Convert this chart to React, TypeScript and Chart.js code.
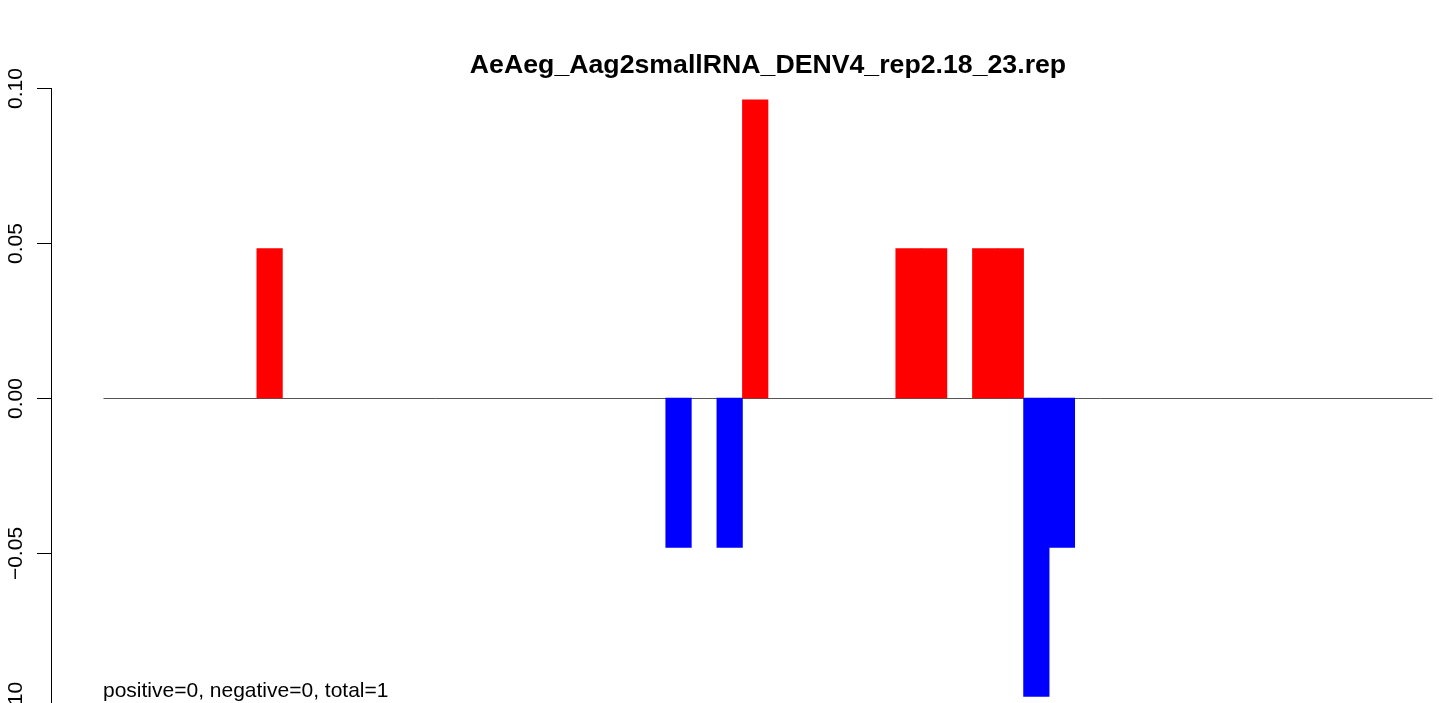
import React, { useEffect, useRef } from "react";
import { Chart, registerables } from "chart.js";

Chart.register(...registerables);

const categories = [
  "1", "2", "3", "4", "5", "6", "7", "8", "9", "10",
  "11", "12", "13", "14", "15", "16", "17", "18", "19", "20",
  "21", "22", "23", "24", "25", "26", "27", "28", "29", "30",
  "31", "32", "33", "34", "35", "36", "37", "38", "39", "40",
  "41", "42", "43", "44", "45", "46", "47", "48", "49", "50",
  "51", "52",
];
const redPositions = ["7", "26", "32", "33", "35", "36"];
const redValues = [0.0482, 0.0962, 0.0482, 0.0482, 0.0482, 0.0482];
const bluePositions = ["23", "25", "37", "38"];
const blueValues = [-0.0482, -0.0482, -0.0963, -0.0482];
const yTicks = [0.1, 0.05, 0, -0.05, -0.1];
const yTickLabels = ["0.10", "0.05", "0.00", "\u22120.05", "\u22120.10"];
const titleText = "AeAeg_Aag2smallRNA_DENV4_rep2.18_23.rep";
const footText = "positive=0, negative=0, total=1";

const FONT = "'Liberation Sans', Arial, Helvetica, sans-serif";

const rStyle = {
  id: "rStyle",
  beforeDatasetsDraw(chart: any) {
    const { ctx, chartArea, scales } = chart;
    const y0 = scales.y.getPixelForValue(0);
    ctx.save();
    ctx.strokeStyle = "#555555";
    ctx.lineWidth = 1;
    ctx.beginPath();
    ctx.moveTo(chartArea.left, Math.round(y0) + 0.5);
    ctx.lineTo(chartArea.right, Math.round(y0) + 0.5);
    ctx.stroke();
    ctx.restore();
  },
  afterDraw(chart: any) {
    const { ctx, scales } = chart;
    const ys = scales.y;
    const axisX = 51.5;
    ctx.save();
    ctx.strokeStyle = "#000";
    ctx.lineWidth = 1;
    ctx.beginPath();
    ctx.moveTo(axisX, ys.getPixelForValue(yTicks[0]));
    ctx.lineTo(axisX, ys.getPixelForValue(yTicks[yTicks.length - 1]));
    ctx.stroke();
    ctx.fillStyle = "#000";
    ctx.font = `21px ${FONT}`;
    ctx.textAlign = "center";
    ctx.textBaseline = "alphabetic";
    yTicks.forEach((v, i) => {
      const py = Math.round(ys.getPixelForValue(v)) + 0.5;
      ctx.beginPath();
      ctx.moveTo(37, py);
      ctx.lineTo(axisX, py);
      ctx.stroke();
      ctx.save();
      ctx.translate(22, py);
      ctx.rotate(-Math.PI / 2);
      ctx.fillText(yTickLabels[i], 0, 0);
      ctx.restore();
    });
    ctx.font = `bold 26.7px ${FONT}`;
    ctx.textAlign = "center";
    ctx.fillText(titleText, 768, 73);
    ctx.font = `21px ${FONT}`;
    ctx.textAlign = "left";
    ctx.fillText(footText, 103, 697);
    ctx.restore();
  },
};

export default function App() {
  const ref = useRef<HTMLCanvasElement | null>(null);
  useEffect(() => {
    if (!ref.current) return;
    const chart = new Chart(ref.current, {
      type: "bar",
      data: {
        labels: categories,
        datasets: [
          {
            label: "positive",
            data: redPositions.map((p, i) => ({ x: p, y: redValues[i] })),
            backgroundColor: "#ff0000",
            borderWidth: 0,
            grouped: false,
            barPercentage: 1,
            categoryPercentage: 1,
          } as any,
          {
            label: "negative",
            data: bluePositions.map((p, i) => ({ x: p, y: blueValues[i] })),
            backgroundColor: "#0000ff",
            borderWidth: 0,
            grouped: false,
            barPercentage: 1,
            categoryPercentage: 1,
          } as any,
        ],
      },
      options: {
        animation: false,
        responsive: true,
        maintainAspectRatio: false,
        layout: { padding: { left: 103.5, right: 6.5, top: 88, bottom: 0 } },
        plugins: {
          legend: { display: false },
          tooltip: { enabled: false },
          title: { display: false },
        },
        scales: {
          x: { type: "category", display: false, offset: true, grid: { display: false } },
          y: { display: false, min: 0.1 - 615 / 3100, max: 0.1 },
        },
      },
      plugins: [rStyle],
    });
    return () => chart.destroy();
  }, []);
  return (
    <div style={{ position: "fixed", left: 0, top: 0, width: 1439, height: 703, background: "#fff" }}>
      <canvas ref={ref} />
    </div>
  );
}
